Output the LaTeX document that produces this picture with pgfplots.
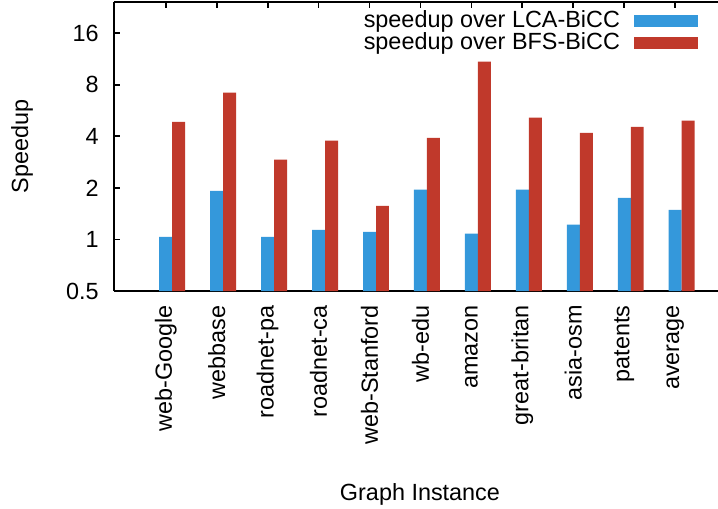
\documentclass[border=0pt]{standalone}
\usepackage{fontspec}
\setmainfont{Liberation Sans}
\usepackage{pgfplots}
\pgfplotsset{compat=1.18}
\definecolor{blueC}{RGB}{52,152,219}
\definecolor{redC}{RGB}{192,57,43}
\begin{document}
\fontsize{11.7}{14}\selectfont
\begin{tikzpicture}
\path[use as bounding box] (-57pt,-109pt) rectangle (302pt,145.5pt);
\begin{axis}[
  at={(0,0)}, anchor=south west,
  scale only axis, width=302pt, height=144.5pt,
  xmin=-1.015, xmax=10.84,
  ymode=log, log basis y=2, log origin=infty,
  ymin=0.5, ymax=24.3,
  axis x line*=box, axis y line*=left,
  axis line style={line width=1pt},
  every tick/.style={line width=0.9pt, black},
  tick align=inside,
  major tick length=3pt, minor tick length=1.6pt,
  xtick={0,...,10},
  xticklabels={web-Google,webbase,roadnet-pa,roadnet-ca,web-Stanford,wb-edu,amazon,great-britan,asia-osm,patents,average},
  xtick pos=right, xticklabel pos=left,
  xticklabel style={yshift=-7pt, rotate=90, anchor=east, inner sep=0pt},
  ytick={0.5,1,2,4,8,16},
  yticklabels={0.5,1,2,4,8,16},
  minor y tick num=5,
  yticklabel style={inner sep=0pt, xshift=-7.5pt},
  tick label style={font=\fontsize{11.7}{14}\selectfont},
  label style={font=\fontsize{11.7}{14}\selectfont},
  ylabel={Speedup},
  every axis y label/.style={at={(axis description cs:-0.1523,0.5)}, rotate=90, anchor=center},
  xlabel={Graph Instance},
  every axis x label/.style={at={(axis description cs:0.5066,-0.7024)}, anchor=center},
  legend plot pos=right,
  legend cell align=right,
  legend style={draw=none, fill=none, inner sep=0pt, outer sep=0pt,
    at={(axis description cs:1,1)}, anchor=north east, xshift=-10pt, yshift=-4pt,
    font=\fontsize{11.7}{14}\selectfont,
    nodes={inner sep=0pt, text height=8.5pt, text depth=2.5pt},
    column sep=7pt, row sep=0pt},
  legend image code/.code={\fill[#1, draw=none] (0pt,-3pt) rectangle (32pt,3pt);},
]
\addplot[ybar, bar width=0.255, bar shift=0, fill=blueC, draw=none] coordinates {
  (0,1.035) (1,1.92) (2,1.035) (3,1.136) (4,1.107) (5,1.95) (6,1.08) (7,1.95) (8,1.22) (9,1.75) (10,1.49)
};
\addlegendentry{speedup over LCA-BiCC}
\addplot[ybar, bar width=0.255, bar shift=0.255, fill=redC, draw=none] coordinates {
  (0,4.86) (1,7.18) (2,2.92) (3,3.77) (4,1.57) (5,3.92) (6,10.9) (7,5.13) (8,4.19) (9,4.54) (10,4.93)
};
\addlegendentry{speedup over BFS-BiCC}
\end{axis}
\end{tikzpicture}
\end{document}
